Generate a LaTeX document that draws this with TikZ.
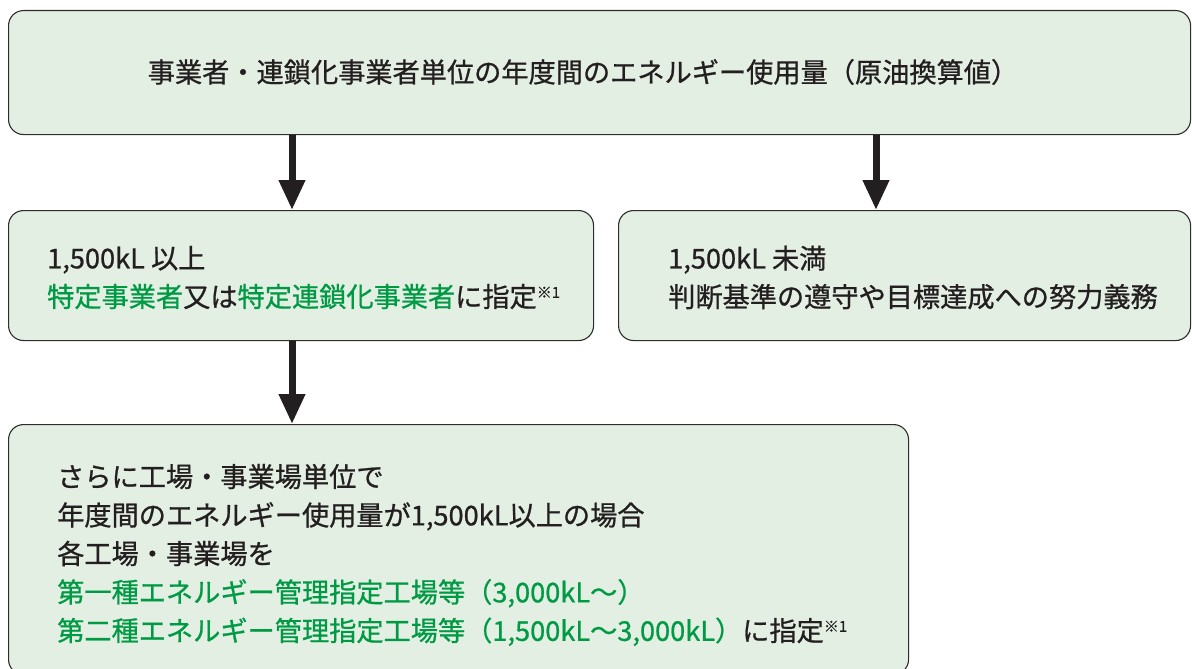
\documentclass[tikz,border=0pt]{standalone}
\usepackage{fontspec}
\setmainfont{Noto Sans CJK JP}[FakeBold=0.8]
\usetikzlibrary{arrows.meta}
\definecolor{boxfill}{RGB}{227,239,227}
\definecolor{boxline}{RGB}{45,45,45}
\definecolor{txt}{RGB}{35,31,32}
\definecolor{grn}{RGB}{0,153,68}
\newcommand{\gr}[1]{\textcolor{grn}{#1}}
\newcommand{\nt}{{\fontsize{15}{15}\selectfont\raisebox{9pt}{※1}}}
\tikzset{
  box/.style={draw=boxline, line width=1.1pt, fill=boxfill, rounded corners=15pt, anchor=north west, inner sep=0pt},
  txtnode/.style={anchor=west, align=left, inner sep=0pt, text=txt, font=\fontsize{27.2}{38.5}\selectfont},
  arr/.style={draw=txt, line width=7pt, -{Triangle[width=25pt,length=30pt]}}
}
\begin{document}
\begin{tikzpicture}[x=1pt,y=-1pt]
\useasboundingbox (0,0) rectangle (1192,669);
\node[box, minimum width=1182pt, minimum height=124pt] (top) at (8,10) {};
\node[box, minimum width=585pt, minimum height=130pt] (left) at (8,210) {};
\node[box, minimum width=572pt, minimum height=130pt] (right) at (618,210) {};
\node[box, minimum width=900pt, minimum height=250pt] (bottom) at (8,424) {};
\coordinate (ax1) at (292,0);
\coordinate (ax2) at (876,0);
\node[txtnode, anchor=center] (toptext) at (583,72) {事業者・連鎖化事業者単位の年度間のエネルギー使用量（原油換算値）};
\node[txtnode] (lefttext) at (47,277.5) {1,500kL 以上\\\gr{特定事業者}又は\gr{特定連鎖化事業者}に指定\nt};
\node[txtnode] (righttext) at (668,277.5) {1,500kL 未満\\判断基準の遵守や目標達成への努力義務};
\node[txtnode] (bottomtext) at (57,555) {さらに工場・事業場単位で\\年度間のエネルギー使用量が1,500kL以上の場合\\各工場・事業場を\\\gr{第一種エネルギー管理指定工場等（3,000kL～）}\\\gr{第二種エネルギー管理指定工場等（1,500kL～3,000kL）}に指定\nt};
\draw[arr] (top.south -| ax1) -- (left.north -| ax1);
\draw[arr] (top.south -| ax2) -- (right.north -| ax2);
\draw[arr] (left.south -| ax1) -- (bottom.north -| ax1);
\end{tikzpicture}
\end{document}
